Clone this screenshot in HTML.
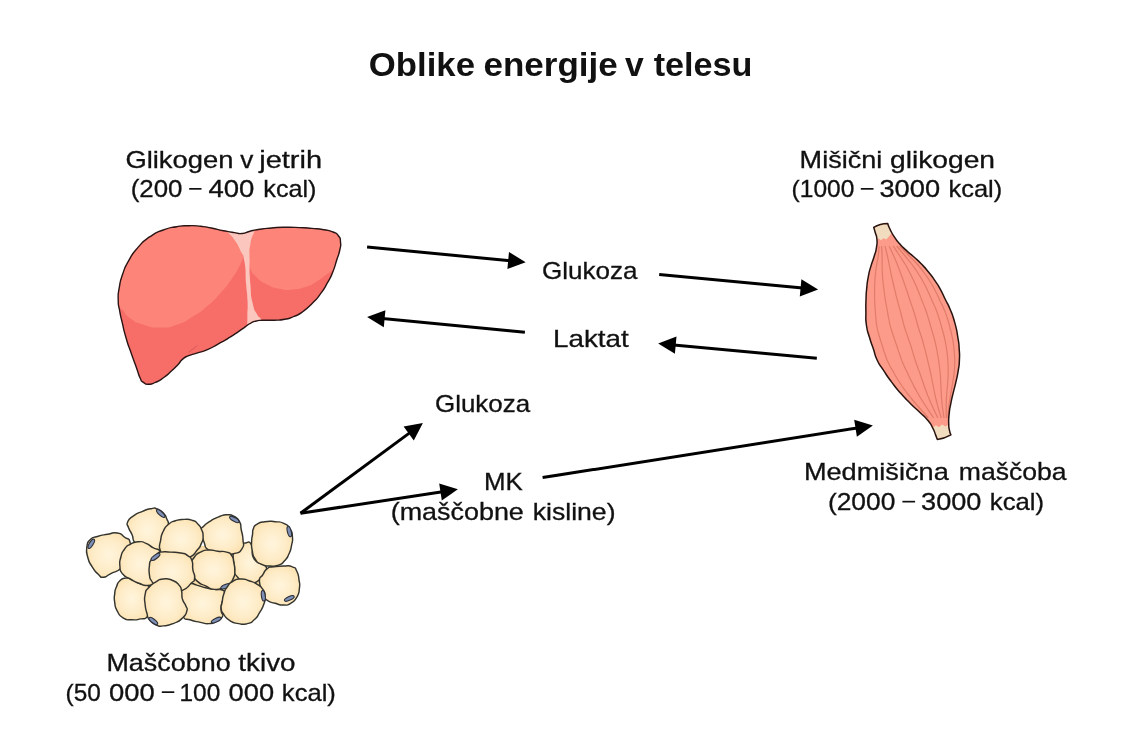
<!DOCTYPE html>
<html><head><meta charset="utf-8"><title>Oblike energije v telesu</title>
<style>html,body{margin:0;padding:0;background:#fff;}svg{display:block;will-change:transform;}
#texts{opacity:0.999;}
text{font-family:'Liberation Sans',sans-serif;fill:#111;}
text.t{font-weight:bold;}
text.n{stroke:#111;stroke-width:0.3px;}</style>
</head><body>
<svg width="1124" height="749" viewBox="0 0 1124 749">
<rect width="1124" height="749" fill="#fff"/>
<g id="texts">
<text class="t" transform="translate(368.86 76.40) scale(1.0361 1)" font-size="33.50">Oblike</text>
<text class="t" transform="translate(483.56 76.40) scale(1.0438 1)" font-size="33.50">energije</text>
<text class="t" transform="translate(625.10 76.40) scale(1.0053 1)" font-size="33.50">v</text>
<text class="t" transform="translate(653.70 76.40) scale(1.0193 1)" font-size="33.50">telesu</text>
<text class="n" transform="translate(125.39 167.80) scale(1.1594 1)" font-size="23.60">Glikogen</text>
<text class="n" transform="translate(240.35 167.80) scale(1.1083 1)" font-size="23.60">v</text>
<text class="n" transform="translate(259.18 167.80) scale(1.2310 1)" font-size="23.60">jetrih</text>
<text class="n" transform="translate(130.65 197.30) scale(1.0976 1)" font-size="23.60">(200</text>
<text class="n" transform="translate(208.45 197.30) scale(1.1671 1)" font-size="23.60">400</text>
<text class="n" transform="translate(263.28 197.30) scale(1.0676 1)" font-size="23.60">kcal)</text>
<text class="n" transform="translate(799.60 167.80) scale(1.1467 1)" font-size="23.60">Mišični</text>
<text class="n" transform="translate(889.95 167.80) scale(1.1963 1)" font-size="23.60">glikogen</text>
<text class="n" transform="translate(791.61 197.30) scale(1.0402 1)" font-size="23.60">(1000</text>
<text class="n" transform="translate(879.45 197.30) scale(1.1553 1)" font-size="23.60">3000</text>
<text class="n" transform="translate(948.47 197.30) scale(1.0780 1)" font-size="23.60">kcal)</text>
<text class="n" transform="translate(541.95 278.80) scale(1.1026 1)" font-size="23.60">Glukoza</text>
<text class="n" transform="translate(553.07 347.30) scale(1.1771 1)" font-size="23.60">Laktat</text>
<text class="n" transform="translate(435.05 412.40) scale(1.0980 1)" font-size="23.60">Glukoza</text>
<text class="n" transform="translate(484.05 490.40) scale(1.0966 1)" font-size="23.60">MK</text>
<text class="n" transform="translate(390.71 520.30) scale(1.1411 1)" font-size="23.60">(maščobne</text>
<text class="n" transform="translate(532.72 520.30) scale(1.1277 1)" font-size="23.60">kisline)</text>
<text class="n" transform="translate(803.90 480.40) scale(1.1507 1)" font-size="23.60">Medmišična</text>
<text class="n" transform="translate(958.82 480.40) scale(1.1264 1)" font-size="23.60">maščoba</text>
<text class="n" transform="translate(827.93 510.10) scale(1.1178 1)" font-size="23.60">(2000</text>
<text class="n" transform="translate(921.05 510.10) scale(1.1496 1)" font-size="23.60">3000</text>
<text class="n" transform="translate(989.76 510.10) scale(1.0906 1)" font-size="23.60">kcal)</text>
<text class="n" transform="translate(106.41 670.60) scale(1.1417 1)" font-size="23.60">Maščobno</text>
<text class="n" transform="translate(238.35 670.60) scale(1.1779 1)" font-size="23.60">tkivo</text>
<text class="n" transform="translate(65.52 700.60) scale(1.0340 1)" font-size="23.60">(50</text>
<text class="n" transform="translate(109.05 700.60) scale(1.1620 1)" font-size="23.60">000</text>
<text class="n" transform="translate(179.51 700.60) scale(1.0355 1)" font-size="23.60">100</text>
<text class="n" transform="translate(228.55 700.60) scale(1.1569 1)" font-size="23.60">000</text>
<text class="n" transform="translate(281.87 700.60) scale(1.0843 1)" font-size="23.60">kcal)</text>
<rect x="189.2" y="188.0" width="12.3" height="1.7" fill="#111"/>
<rect x="860.8" y="188.0" width="12.7" height="1.7" fill="#111"/>
<rect x="902.4" y="500.8" width="12.7" height="1.7" fill="#111"/>
<rect x="161.8" y="691.3" width="12.5" height="1.7" fill="#111"/>
</g>
<g id="arrows">
<line x1="367.1" y1="247.0" x2="510.2" y2="260.7" stroke="#000" stroke-width="3"/>
<polygon points="525.7,262.2 507.4,269.1 509.0,252.0" fill="#000"/>
<line x1="524.9" y1="332.2" x2="382.6" y2="318.6" stroke="#000" stroke-width="3"/>
<polygon points="367.1,317.1 385.4,310.2 383.8,327.3" fill="#000"/>
<line x1="659.2" y1="274.6" x2="802.6" y2="288.0" stroke="#000" stroke-width="3"/>
<polygon points="818.1,289.5 799.8,296.4 801.4,279.3" fill="#000"/>
<line x1="816.8" y1="358.2" x2="673.7" y2="344.9" stroke="#000" stroke-width="3"/>
<polygon points="658.2,343.5 676.5,336.6 674.9,353.7" fill="#000"/>
<line x1="300.5" y1="513.3" x2="410.3" y2="432.4" stroke="#000" stroke-width="3"/>
<polygon points="422.9,423.1 413.8,440.5 403.6,426.6" fill="#000"/>
<line x1="300.5" y1="513.3" x2="442.5" y2="491.7" stroke="#000" stroke-width="3"/>
<polygon points="457.9,489.3 441.8,500.5 439.2,483.5" fill="#000"/>
<line x1="542.6" y1="477.6" x2="857.5" y2="427.9" stroke="#000" stroke-width="3"/>
<polygon points="872.9,425.5 856.9,436.7 854.2,419.7" fill="#000"/>
</g>
<g id="liver">
<clipPath id="lc"><path d="M118.2 300.0 C118.1 292.5 117.8 296.0 119.3 287.4 C120.8 278.8 119.6 283.0 122.7 274.1 C125.8 265.2 123.6 269.6 128.7 260.7 C133.8 251.8 130.9 255.4 138.0 247.4 C145.1 239.4 141.5 242.5 150.0 236.7 C158.5 230.9 154.5 233.3 163.4 230.0 C172.3 226.7 168.2 228.1 176.7 226.7 C185.2 225.3 180.8 225.8 188.8 225.7 C196.8 225.6 193.3 225.5 200.8 226.3 C208.3 227.1 203.8 226.5 211.4 228.0 C219.0 229.5 215.8 229.2 223.5 230.7 C231.2 232.2 228.2 231.7 234.5 232.6 C240.8 233.5 237.1 234.0 242.3 233.5 C247.5 233.0 244.2 232.6 250.0 231.2 C255.8 229.8 252.5 230.4 259.7 229.3 C266.9 228.2 263.2 228.7 271.7 228.0 C280.2 227.3 275.8 227.4 285.1 227.3 C294.4 227.2 290.8 227.2 299.7 227.6 C308.6 228.0 303.8 227.7 311.8 228.4 C319.8 229.1 316.7 228.5 323.8 229.7 C330.9 230.9 328.2 229.9 333.1 232.0 C338.0 234.1 336.0 232.7 338.5 236.0 C341.0 239.3 340.1 237.3 340.5 242.0 C340.9 246.7 341.1 243.8 339.8 250.0 C338.5 256.2 338.8 253.4 336.5 260.7 C334.2 268.0 335.8 264.7 332.8 272.0 C329.8 279.3 331.5 275.6 327.5 282.7 C323.5 289.8 325.7 286.7 320.8 293.4 C315.9 300.1 318.6 296.8 312.8 302.7 C307.0 308.6 309.6 306.6 303.4 311.2 C297.2 315.8 300.3 313.7 294.1 316.4 C287.9 319.1 291.4 318.0 284.7 319.3 C278.0 320.6 281.2 319.9 274.1 320.2 C267.0 320.5 269.3 320.0 263.4 320.3 C257.5 320.6 260.5 320.1 256.4 321.0 C252.3 321.9 254.7 321.1 251.0 323.0 C247.3 324.9 250.0 323.5 245.2 326.8 C240.4 330.1 242.6 328.8 236.7 332.8 C230.8 336.8 233.6 335.0 227.4 338.8 C221.2 342.6 224.7 340.5 218.0 344.1 C211.3 347.7 214.5 346.7 207.4 349.7 C200.3 352.7 203.0 351.1 196.8 353.1 C190.6 355.1 193.5 353.7 188.8 355.7 C184.1 357.7 186.3 356.2 182.7 359.1 C179.1 362.0 181.9 360.4 178.1 364.4 C174.3 368.4 176.3 366.6 171.4 371.1 C166.5 375.6 168.7 374.0 163.4 377.8 C158.1 381.6 160.3 380.3 155.4 382.4 C150.5 384.5 152.7 384.2 148.7 384.2 C144.7 384.2 146.3 384.5 143.4 382.4 C140.5 380.3 142.2 382.5 140.0 377.8 C137.8 373.1 139.6 376.4 136.7 368.4 C133.8 360.4 135.0 363.9 131.4 353.7 C127.8 343.5 129.1 348.4 126.0 337.7 C122.9 327.0 124.2 330.9 122.0 321.7 C119.8 312.5 120.8 317.2 119.5 310.0 C118.2 302.8 118.3 307.5 118.2 300.0Z"/></clipPath>
<path d="M118.2 300.0 C118.1 292.5 117.8 296.0 119.3 287.4 C120.8 278.8 119.6 283.0 122.7 274.1 C125.8 265.2 123.6 269.6 128.7 260.7 C133.8 251.8 130.9 255.4 138.0 247.4 C145.1 239.4 141.5 242.5 150.0 236.7 C158.5 230.9 154.5 233.3 163.4 230.0 C172.3 226.7 168.2 228.1 176.7 226.7 C185.2 225.3 180.8 225.8 188.8 225.7 C196.8 225.6 193.3 225.5 200.8 226.3 C208.3 227.1 203.8 226.5 211.4 228.0 C219.0 229.5 215.8 229.2 223.5 230.7 C231.2 232.2 228.2 231.7 234.5 232.6 C240.8 233.5 237.1 234.0 242.3 233.5 C247.5 233.0 244.2 232.6 250.0 231.2 C255.8 229.8 252.5 230.4 259.7 229.3 C266.9 228.2 263.2 228.7 271.7 228.0 C280.2 227.3 275.8 227.4 285.1 227.3 C294.4 227.2 290.8 227.2 299.7 227.6 C308.6 228.0 303.8 227.7 311.8 228.4 C319.8 229.1 316.7 228.5 323.8 229.7 C330.9 230.9 328.2 229.9 333.1 232.0 C338.0 234.1 336.0 232.7 338.5 236.0 C341.0 239.3 340.1 237.3 340.5 242.0 C340.9 246.7 341.1 243.8 339.8 250.0 C338.5 256.2 338.8 253.4 336.5 260.7 C334.2 268.0 335.8 264.7 332.8 272.0 C329.8 279.3 331.5 275.6 327.5 282.7 C323.5 289.8 325.7 286.7 320.8 293.4 C315.9 300.1 318.6 296.8 312.8 302.7 C307.0 308.6 309.6 306.6 303.4 311.2 C297.2 315.8 300.3 313.7 294.1 316.4 C287.9 319.1 291.4 318.0 284.7 319.3 C278.0 320.6 281.2 319.9 274.1 320.2 C267.0 320.5 269.3 320.0 263.4 320.3 C257.5 320.6 260.5 320.1 256.4 321.0 C252.3 321.9 254.7 321.1 251.0 323.0 C247.3 324.9 250.0 323.5 245.2 326.8 C240.4 330.1 242.6 328.8 236.7 332.8 C230.8 336.8 233.6 335.0 227.4 338.8 C221.2 342.6 224.7 340.5 218.0 344.1 C211.3 347.7 214.5 346.7 207.4 349.7 C200.3 352.7 203.0 351.1 196.8 353.1 C190.6 355.1 193.5 353.7 188.8 355.7 C184.1 357.7 186.3 356.2 182.7 359.1 C179.1 362.0 181.9 360.4 178.1 364.4 C174.3 368.4 176.3 366.6 171.4 371.1 C166.5 375.6 168.7 374.0 163.4 377.8 C158.1 381.6 160.3 380.3 155.4 382.4 C150.5 384.5 152.7 384.2 148.7 384.2 C144.7 384.2 146.3 384.5 143.4 382.4 C140.5 380.3 142.2 382.5 140.0 377.8 C137.8 373.1 139.6 376.4 136.7 368.4 C133.8 360.4 135.0 363.9 131.4 353.7 C127.8 343.5 129.1 348.4 126.0 337.7 C122.9 327.0 124.2 330.9 122.0 321.7 C119.8 312.5 120.8 317.2 119.5 310.0 C118.2 302.8 118.3 307.5 118.2 300.0Z" fill="#f76d68"/>
<g clip-path="url(#lc)">
<path d="M112.0 302.0 C115.1 304.2 115.3 303.3 121.3 308.7 C127.3 314.1 122.6 312.8 130.0 318.1 C137.4 323.4 133.2 321.6 143.4 324.7 C153.6 327.8 149.6 327.4 160.7 327.4 C171.8 327.4 166.0 328.3 176.7 324.7 C187.4 321.1 182.5 322.9 192.7 316.7 C202.9 310.5 198.0 314.1 207.4 306.1 C216.8 298.1 212.8 301.6 220.8 292.7 C228.8 283.8 225.2 288.3 231.4 279.4 C237.6 270.5 235.4 273.8 239.5 266.0 C243.6 258.2 241.4 262.7 243.6 256.0 C245.8 249.3 245.2 249.3 246.0 246.0 L246 215 L105 215 Z" fill="#fc8479"/>
<path d="M247.0 255.0 C247.7 257.7 247.7 258.0 249.0 263.0 C250.3 268.0 248.9 265.7 251.0 270.0 C253.1 274.3 250.4 271.3 255.4 276.0 C260.4 280.7 258.0 279.8 266.0 284.0 C274.0 288.2 270.5 286.9 279.4 288.7 C288.3 290.5 283.9 290.1 292.8 289.4 C301.7 288.7 298.1 289.4 306.1 286.7 C314.1 284.0 310.7 285.0 316.8 281.4 C322.9 277.8 319.1 279.8 324.5 276.0 C329.9 272.2 326.2 274.7 333.0 270.0 C339.8 265.3 341.0 264.7 345.0 262.0 L350 215 L247 215 Z" fill="#fc8479"/>
<path d="M225.5 228.0 C226.2 229.3 224.8 228.3 227.6 232.0 C230.4 235.7 229.7 233.1 234.0 239.2 C238.3 245.3 236.9 242.9 240.4 250.4 C243.9 257.9 242.6 250.5 244.5 261.7 C246.4 272.9 245.1 271.3 246.1 284.1 C247.1 296.9 247.1 289.5 247.5 300.1 C247.9 310.7 247.6 305.4 247.4 316.0 C247.2 326.6 247.1 326.7 247.0 332.0 L264.0 332.0 C263.1 328.1 263.6 326.0 261.3 320.2 C259.0 314.4 260.1 320.1 257.2 314.5 C254.3 308.9 255.0 313.4 252.7 303.3 C250.4 293.2 251.4 298.5 250.4 284.1 C249.4 269.7 249.6 273.5 249.6 260.1 C249.6 246.7 248.9 253.4 250.4 244.0 C251.9 234.6 252.2 238.0 254.1 232.0 C256.0 226.0 255.4 228.0 256.0 226.0Z" fill="#fbc6be"/>
</g>
<path d="M118.2 300.0 C118.1 292.5 117.8 296.0 119.3 287.4 C120.8 278.8 119.6 283.0 122.7 274.1 C125.8 265.2 123.6 269.6 128.7 260.7 C133.8 251.8 130.9 255.4 138.0 247.4 C145.1 239.4 141.5 242.5 150.0 236.7 C158.5 230.9 154.5 233.3 163.4 230.0 C172.3 226.7 168.2 228.1 176.7 226.7 C185.2 225.3 180.8 225.8 188.8 225.7 C196.8 225.6 193.3 225.5 200.8 226.3 C208.3 227.1 203.8 226.5 211.4 228.0 C219.0 229.5 215.8 229.2 223.5 230.7 C231.2 232.2 228.2 231.7 234.5 232.6 C240.8 233.5 237.1 234.0 242.3 233.5 C247.5 233.0 244.2 232.6 250.0 231.2 C255.8 229.8 252.5 230.4 259.7 229.3 C266.9 228.2 263.2 228.7 271.7 228.0 C280.2 227.3 275.8 227.4 285.1 227.3 C294.4 227.2 290.8 227.2 299.7 227.6 C308.6 228.0 303.8 227.7 311.8 228.4 C319.8 229.1 316.7 228.5 323.8 229.7 C330.9 230.9 328.2 229.9 333.1 232.0 C338.0 234.1 336.0 232.7 338.5 236.0 C341.0 239.3 340.1 237.3 340.5 242.0 C340.9 246.7 341.1 243.8 339.8 250.0 C338.5 256.2 338.8 253.4 336.5 260.7 C334.2 268.0 335.8 264.7 332.8 272.0 C329.8 279.3 331.5 275.6 327.5 282.7 C323.5 289.8 325.7 286.7 320.8 293.4 C315.9 300.1 318.6 296.8 312.8 302.7 C307.0 308.6 309.6 306.6 303.4 311.2 C297.2 315.8 300.3 313.7 294.1 316.4 C287.9 319.1 291.4 318.0 284.7 319.3 C278.0 320.6 281.2 319.9 274.1 320.2 C267.0 320.5 269.3 320.0 263.4 320.3 C257.5 320.6 260.5 320.1 256.4 321.0 C252.3 321.9 254.7 321.1 251.0 323.0 C247.3 324.9 250.0 323.5 245.2 326.8 C240.4 330.1 242.6 328.8 236.7 332.8 C230.8 336.8 233.6 335.0 227.4 338.8 C221.2 342.6 224.7 340.5 218.0 344.1 C211.3 347.7 214.5 346.7 207.4 349.7 C200.3 352.7 203.0 351.1 196.8 353.1 C190.6 355.1 193.5 353.7 188.8 355.7 C184.1 357.7 186.3 356.2 182.7 359.1 C179.1 362.0 181.9 360.4 178.1 364.4 C174.3 368.4 176.3 366.6 171.4 371.1 C166.5 375.6 168.7 374.0 163.4 377.8 C158.1 381.6 160.3 380.3 155.4 382.4 C150.5 384.5 152.7 384.2 148.7 384.2 C144.7 384.2 146.3 384.5 143.4 382.4 C140.5 380.3 142.2 382.5 140.0 377.8 C137.8 373.1 139.6 376.4 136.7 368.4 C133.8 360.4 135.0 363.9 131.4 353.7 C127.8 343.5 129.1 348.4 126.0 337.7 C122.9 327.0 124.2 330.9 122.0 321.7 C119.8 312.5 120.8 317.2 119.5 310.0 C118.2 302.8 118.3 307.5 118.2 300.0Z" fill="none" stroke="#2a1414" stroke-width="1.4"/>
<path d="M188.6 352.4 L197.4 345.6" stroke="#d95a58" stroke-width="1" fill="none"/>
</g>
<g id="muscle">
<clipPath id="mc"><path d="M873.7 227.3 C874.2 229.1 874.2 228.8 875.3 232.8 C876.4 236.8 876.5 234.2 876.9 239.2 C877.3 244.2 877.3 242.1 876.4 247.8 C875.5 253.5 876.0 250.3 874.2 256.3 C872.4 262.3 873.0 259.1 871.0 265.9 C869.0 272.7 869.7 269.1 868.3 276.6 C866.9 284.1 867.5 280.5 866.7 288.3 C865.9 296.1 866.3 292.1 866.0 300.0 C865.7 307.9 865.8 303.7 865.9 312.0 C866.0 320.3 865.2 316.4 866.4 325.0 C867.6 333.6 867.3 329.8 869.6 337.8 C871.9 345.8 870.9 341.6 873.4 349.0 C875.9 356.4 873.8 352.9 877.1 360.0 C880.4 367.1 878.7 363.0 883.4 370.2 C888.1 377.4 885.6 374.0 891.3 381.6 C897.0 389.2 894.0 385.5 900.4 392.9 C906.8 400.3 904.2 397.3 910.6 403.7 C917.0 410.1 914.0 406.7 919.7 412.2 C925.4 417.7 923.3 414.9 927.7 420.2 C932.1 425.5 930.2 423.2 932.8 428.1 C935.4 433.0 934.1 431.1 935.6 434.9 C937.1 438.7 936.7 438.0 937.3 439.5 Q944.5 438.6 950.9 434.9 L950.9 434.9 C950.4 433.4 950.2 434.2 949.5 430.4 C948.8 426.6 948.8 429.3 948.7 423.6 C948.6 417.9 948.5 420.2 949.2 413.4 C949.9 406.6 949.6 409.9 950.9 403.1 C952.2 396.3 951.5 400.1 953.2 392.9 C954.9 385.7 954.3 389.2 956.0 381.6 C957.7 374.0 957.2 377.4 958.3 370.2 C959.4 363.0 959.1 367.1 959.4 360.0 C959.7 352.9 959.7 356.7 959.2 349.0 C958.7 341.3 959.3 346.0 957.8 337.0 C956.3 328.0 957.2 331.3 954.6 322.0 C952.0 312.7 953.0 316.3 950.0 309.0 C947.0 301.7 948.8 306.5 945.6 300.0 C942.4 293.5 943.9 295.8 940.4 289.4 C936.9 283.0 939.0 286.6 935.1 280.9 C931.2 275.2 933.3 278.0 928.7 272.3 C924.1 266.6 926.2 269.0 921.2 263.8 C916.2 258.6 918.7 261.3 913.7 256.8 C908.7 252.3 910.9 254.7 906.3 250.4 C901.7 246.1 903.8 248.4 899.9 244.0 C896.0 239.6 897.7 241.9 894.5 237.1 C891.3 232.3 892.5 234.2 890.2 229.6 C887.9 225.0 888.5 225.5 887.6 223.4 Q880 223.6 873.7 227.3Z"/></clipPath>
<path d="M873.7 227.3 C874.2 229.1 874.2 228.8 875.3 232.8 C876.4 236.8 876.5 234.2 876.9 239.2 C877.3 244.2 877.3 242.1 876.4 247.8 C875.5 253.5 876.0 250.3 874.2 256.3 C872.4 262.3 873.0 259.1 871.0 265.9 C869.0 272.7 869.7 269.1 868.3 276.6 C866.9 284.1 867.5 280.5 866.7 288.3 C865.9 296.1 866.3 292.1 866.0 300.0 C865.7 307.9 865.8 303.7 865.9 312.0 C866.0 320.3 865.2 316.4 866.4 325.0 C867.6 333.6 867.3 329.8 869.6 337.8 C871.9 345.8 870.9 341.6 873.4 349.0 C875.9 356.4 873.8 352.9 877.1 360.0 C880.4 367.1 878.7 363.0 883.4 370.2 C888.1 377.4 885.6 374.0 891.3 381.6 C897.0 389.2 894.0 385.5 900.4 392.9 C906.8 400.3 904.2 397.3 910.6 403.7 C917.0 410.1 914.0 406.7 919.7 412.2 C925.4 417.7 923.3 414.9 927.7 420.2 C932.1 425.5 930.2 423.2 932.8 428.1 C935.4 433.0 934.1 431.1 935.6 434.9 C937.1 438.7 936.7 438.0 937.3 439.5 Q944.5 438.6 950.9 434.9 L950.9 434.9 C950.4 433.4 950.2 434.2 949.5 430.4 C948.8 426.6 948.8 429.3 948.7 423.6 C948.6 417.9 948.5 420.2 949.2 413.4 C949.9 406.6 949.6 409.9 950.9 403.1 C952.2 396.3 951.5 400.1 953.2 392.9 C954.9 385.7 954.3 389.2 956.0 381.6 C957.7 374.0 957.2 377.4 958.3 370.2 C959.4 363.0 959.1 367.1 959.4 360.0 C959.7 352.9 959.7 356.7 959.2 349.0 C958.7 341.3 959.3 346.0 957.8 337.0 C956.3 328.0 957.2 331.3 954.6 322.0 C952.0 312.7 953.0 316.3 950.0 309.0 C947.0 301.7 948.8 306.5 945.6 300.0 C942.4 293.5 943.9 295.8 940.4 289.4 C936.9 283.0 939.0 286.6 935.1 280.9 C931.2 275.2 933.3 278.0 928.7 272.3 C924.1 266.6 926.2 269.0 921.2 263.8 C916.2 258.6 918.7 261.3 913.7 256.8 C908.7 252.3 910.9 254.7 906.3 250.4 C901.7 246.1 903.8 248.4 899.9 244.0 C896.0 239.6 897.7 241.9 894.5 237.1 C891.3 232.3 892.5 234.2 890.2 229.6 C887.9 225.0 888.5 225.5 887.6 223.4 Q880 223.6 873.7 227.3Z" fill="#fc9b89"/>
<g clip-path="url(#mc)">
<g fill="none" stroke="#e07c69" stroke-width="1.2" stroke-linecap="round"><path d="M879.1 246.5 C878.8 249.5 879.1 249.5 878.3 255.5 C877.5 261.5 877.7 258.5 876.7 264.5 C875.8 270.5 876.1 267.5 875.5 273.5 C874.8 279.5 875.1 276.5 874.8 282.5 C874.5 288.5 874.6 285.5 874.6 291.5 C874.6 297.5 874.5 294.5 874.7 300.5 C874.9 306.5 874.8 303.5 875.2 309.5 C875.6 315.5 875.3 312.5 875.9 318.5 C876.5 324.5 875.9 321.5 877.1 327.5 C878.2 333.5 877.7 330.5 879.4 336.5 C881.1 342.5 880.3 339.5 882.2 345.5 C884.1 351.5 882.9 348.5 885.1 354.5 C887.2 360.5 885.8 357.5 888.7 363.5 C891.6 369.5 890.2 366.5 893.7 372.5 C897.1 378.5 895.2 375.5 899.0 381.5 C902.9 387.5 900.8 384.5 905.2 390.5 C909.6 396.5 907.3 393.5 912.2 399.5 C917.1 405.5 914.7 402.5 920.0 408.5 C925.3 414.5 925.3 414.5 928.0 417.5"/><path d="M881.6 246.5 C881.8 249.5 881.9 249.5 882.1 255.5 C882.3 261.5 882.1 258.5 882.1 264.5 C882.2 270.5 882.1 267.5 882.4 273.5 C882.7 279.5 882.5 276.5 883.1 282.5 C883.7 288.5 883.4 285.5 884.2 291.5 C884.9 297.5 884.5 294.5 885.4 300.5 C886.4 306.5 886.0 303.5 887.1 309.5 C888.2 315.5 887.5 312.5 888.7 318.5 C890.0 324.5 889.1 321.5 890.7 327.5 C892.3 333.5 891.6 330.5 893.6 336.5 C895.6 342.5 894.6 339.5 896.7 345.5 C898.7 351.5 897.5 348.5 899.7 354.5 C901.8 360.5 900.5 357.5 903.0 363.5 C905.6 369.5 904.4 366.5 907.3 372.5 C910.1 378.5 908.6 375.5 911.6 381.5 C914.6 387.5 913.0 384.5 916.3 390.5 C919.6 396.5 917.8 393.5 921.5 399.5 C925.2 405.5 923.4 402.5 927.3 408.5 C931.2 414.5 931.3 414.5 933.3 417.5"/><path d="M885.1 246.5 C885.8 249.5 885.9 249.5 887.3 255.5 C888.7 261.5 888.0 258.5 889.2 264.5 C890.4 270.5 889.7 267.5 891.0 273.5 C892.3 279.5 891.6 276.5 893.0 282.5 C894.4 288.5 893.7 285.5 895.2 291.5 C896.6 297.5 895.8 294.5 897.4 300.5 C898.9 306.5 898.3 303.5 899.9 309.5 C901.5 315.5 900.6 312.5 902.2 318.5 C903.8 324.5 902.8 321.5 904.6 327.5 C906.4 333.5 905.6 330.5 907.6 336.5 C909.6 342.5 908.7 339.5 910.7 345.5 C912.6 351.5 911.6 348.5 913.4 354.5 C915.3 360.5 914.3 357.5 916.3 363.5 C918.4 369.5 917.5 366.5 919.6 372.5 C921.7 378.5 920.6 375.5 922.7 381.5 C924.8 387.5 923.6 384.5 925.9 390.5 C928.1 396.5 926.9 393.5 929.4 399.5 C931.9 405.5 930.7 402.5 933.4 408.5 C936.2 414.5 936.2 414.5 937.6 417.5"/><path d="M889.3 246.5 C890.7 249.5 890.8 249.5 893.5 255.5 C896.2 261.5 894.9 258.5 897.3 264.5 C899.8 270.5 898.5 267.5 900.7 273.5 C903.0 279.5 901.9 276.5 904.0 282.5 C906.1 288.5 905.1 285.5 907.1 291.5 C909.1 297.5 908.0 294.5 910.0 300.5 C912.0 306.5 911.2 303.5 913.1 309.5 C915.1 315.5 914.1 312.5 915.8 318.5 C917.6 324.5 916.6 321.5 918.4 327.5 C920.2 333.5 919.4 330.5 921.3 336.5 C923.1 342.5 922.3 339.5 923.9 345.5 C925.6 351.5 924.8 348.5 926.2 354.5 C927.7 360.5 927.0 357.5 928.4 363.5 C929.8 369.5 929.2 366.5 930.5 372.5 C931.9 378.5 931.2 375.5 932.3 381.5 C933.5 387.5 932.9 384.5 934.1 390.5 C935.3 396.5 934.6 393.5 936.1 399.5 C937.5 405.5 936.8 402.5 938.4 408.5 C940.1 414.5 940.2 414.5 941.1 417.5"/><path d="M893.5 246.5 C895.5 249.5 895.6 249.5 899.5 255.5 C903.4 261.5 901.7 258.5 905.3 264.5 C908.8 270.5 907.1 267.5 910.2 273.5 C913.2 279.5 911.8 276.5 914.5 282.5 C917.3 288.5 916.0 285.5 918.4 291.5 C920.9 297.5 919.5 294.5 921.9 300.5 C924.2 306.5 923.3 303.5 925.5 309.5 C927.7 315.5 926.6 312.5 928.4 318.5 C930.3 324.5 929.3 321.5 931.0 327.5 C932.8 333.5 932.0 330.5 933.7 336.5 C935.3 342.5 934.5 339.5 935.9 345.5 C937.2 351.5 936.6 348.5 937.6 354.5 C938.7 360.5 938.2 357.5 939.0 363.5 C939.9 369.5 939.5 366.5 940.1 372.5 C940.7 378.5 940.4 375.5 940.7 381.5 C941.0 387.5 940.8 384.5 941.1 390.5 C941.4 396.5 941.2 393.5 941.7 399.5 C942.2 405.5 941.9 402.5 942.6 408.5 C943.4 414.5 943.5 414.5 944.0 417.5"/><path d="M897.1 246.5 C899.6 249.5 899.7 249.5 904.7 255.5 C909.6 261.5 907.5 258.5 912.0 264.5 C916.5 270.5 914.3 267.5 918.2 273.5 C922.0 279.5 920.2 276.5 923.5 282.5 C926.8 288.5 925.2 285.5 928.0 291.5 C930.9 297.5 929.3 294.5 932.0 300.5 C934.6 306.5 933.6 303.5 936.0 309.5 C938.4 315.5 937.2 312.5 939.1 318.5 C941.0 324.5 940.1 321.5 941.7 327.5 C943.4 333.5 942.7 330.5 944.2 336.5 C945.6 342.5 944.9 339.5 946.0 345.5 C947.0 351.5 946.6 348.5 947.3 354.5 C948.0 360.5 947.7 357.5 948.0 363.5 C948.3 369.5 948.3 366.5 948.2 372.5 C948.1 378.5 948.1 375.5 947.8 381.5 C947.4 387.5 947.5 384.5 947.0 390.5 C946.6 396.5 946.7 393.5 946.4 399.5 C946.1 405.5 946.2 402.5 946.2 408.5 C946.2 414.5 946.3 414.5 946.4 417.5"/><path d="M900.0 246.5 C903.0 249.5 903.0 249.5 908.8 255.5 C914.6 261.5 912.2 258.5 917.5 264.5 C922.7 270.5 920.2 267.5 924.5 273.5 C928.9 279.5 926.9 276.5 930.6 282.5 C934.3 288.5 932.5 285.5 935.6 291.5 C938.7 297.5 937.0 294.5 939.9 300.5 C942.7 306.5 941.6 303.5 944.1 309.5 C946.6 315.5 945.4 312.5 947.4 318.5 C949.3 324.5 948.3 321.5 949.9 327.5 C951.5 333.5 950.9 330.5 952.1 336.5 C953.3 342.5 952.8 339.5 953.6 345.5 C954.4 351.5 954.1 348.5 954.5 354.5 C954.9 360.5 954.8 357.5 954.7 363.5 C954.6 369.5 954.7 366.5 954.1 372.5 C953.5 378.5 953.8 375.5 952.9 381.5 C951.9 387.5 952.3 384.5 951.3 390.5 C950.2 396.5 950.7 393.5 949.8 399.5 C948.9 405.5 949.2 402.5 948.6 408.5 C948.1 414.5 948.3 414.5 948.1 417.5"/></g>
<path d="M870.0 220.0 L892.0 220.0 L892.0 233.0 L890.5 234.5 L888.5 237.0 L886.3 239.6 L883.5 238.2 L881.0 240.2 L878.5 238.6 L876.0 239.5 L870.0 239.0Z" fill="#f2dcbf"/>
<path d="M930.0 428.4 L933.0 427.6 L936.0 425.2 L939.0 427.2 L942.0 424.4 L945.5 426.6 L948.0 425.0 L953.0 425.0 L955.0 442.0 L930.0 442.0Z" fill="#f2dcbf"/>
</g>
<path d="M873.7 227.3 C874.2 229.1 874.2 228.8 875.3 232.8 C876.4 236.8 876.5 234.2 876.9 239.2 C877.3 244.2 877.3 242.1 876.4 247.8 C875.5 253.5 876.0 250.3 874.2 256.3 C872.4 262.3 873.0 259.1 871.0 265.9 C869.0 272.7 869.7 269.1 868.3 276.6 C866.9 284.1 867.5 280.5 866.7 288.3 C865.9 296.1 866.3 292.1 866.0 300.0 C865.7 307.9 865.8 303.7 865.9 312.0 C866.0 320.3 865.2 316.4 866.4 325.0 C867.6 333.6 867.3 329.8 869.6 337.8 C871.9 345.8 870.9 341.6 873.4 349.0 C875.9 356.4 873.8 352.9 877.1 360.0 C880.4 367.1 878.7 363.0 883.4 370.2 C888.1 377.4 885.6 374.0 891.3 381.6 C897.0 389.2 894.0 385.5 900.4 392.9 C906.8 400.3 904.2 397.3 910.6 403.7 C917.0 410.1 914.0 406.7 919.7 412.2 C925.4 417.7 923.3 414.9 927.7 420.2 C932.1 425.5 930.2 423.2 932.8 428.1 C935.4 433.0 934.1 431.1 935.6 434.9 C937.1 438.7 936.7 438.0 937.3 439.5 Q944.5 438.6 950.9 434.9 L950.9 434.9 C950.4 433.4 950.2 434.2 949.5 430.4 C948.8 426.6 948.8 429.3 948.7 423.6 C948.6 417.9 948.5 420.2 949.2 413.4 C949.9 406.6 949.6 409.9 950.9 403.1 C952.2 396.3 951.5 400.1 953.2 392.9 C954.9 385.7 954.3 389.2 956.0 381.6 C957.7 374.0 957.2 377.4 958.3 370.2 C959.4 363.0 959.1 367.1 959.4 360.0 C959.7 352.9 959.7 356.7 959.2 349.0 C958.7 341.3 959.3 346.0 957.8 337.0 C956.3 328.0 957.2 331.3 954.6 322.0 C952.0 312.7 953.0 316.3 950.0 309.0 C947.0 301.7 948.8 306.5 945.6 300.0 C942.4 293.5 943.9 295.8 940.4 289.4 C936.9 283.0 939.0 286.6 935.1 280.9 C931.2 275.2 933.3 278.0 928.7 272.3 C924.1 266.6 926.2 269.0 921.2 263.8 C916.2 258.6 918.7 261.3 913.7 256.8 C908.7 252.3 910.9 254.7 906.3 250.4 C901.7 246.1 903.8 248.4 899.9 244.0 C896.0 239.6 897.7 241.9 894.5 237.1 C891.3 232.3 892.5 234.2 890.2 229.6 C887.9 225.0 888.5 225.5 887.6 223.4 Q880 223.6 873.7 227.3Z" fill="none" stroke="#2a1410" stroke-width="1.5" stroke-linejoin="round"/>
</g>
<g id="fat"><radialGradient id="fg" cx="0.5" cy="0.5" r="0.62"><stop offset="0" stop-color="#fff5dd"/><stop offset="0.55" stop-color="#feecc8"/><stop offset="1" stop-color="#fbdfaa"/></radialGradient><path d="M128 552 L150 542 L190 546 L235 546 L260 560 L260 590 L240 604 L180 604 L142 598 L128 580Z" fill="#f9dba6"/>
<path d="M233.4 550.3 C234.3 543.1 233.4 546.7 236.9 544.3 C240.3 541.8 238.9 542.9 243.8 543.1 C248.7 543.2 248.2 539.5 251.6 544.8 C255.1 550.1 249.3 551.4 254.2 559.0 C259.2 566.7 264.7 560.8 266.4 567.7 C268.1 574.7 265.8 575.2 259.4 579.9 C253.1 584.5 254.8 582.8 247.3 581.6 C239.8 580.4 241.2 581.6 236.9 576.4 C232.5 571.2 235.4 574.7 234.3 566.0 C233.1 557.3 232.5 557.6 233.4 550.3Z" fill="url(#fg)" stroke="#35352f" stroke-width="1.45" stroke-linejoin="round"/>
<path d="M86.9 546.9 C87.8 541.0 86.9 543.1 90.4 539.6 C93.9 536.1 91.6 538.3 97.4 536.5 C103.1 534.7 101.1 535.4 107.8 534.2 C114.4 533.0 111.8 532.1 117.3 533.0 C122.8 533.9 119.9 533.5 124.3 537.0 C128.6 540.5 128.9 536.6 130.3 543.4 C131.8 550.2 131.5 549.2 128.6 557.3 C125.7 565.4 127.7 562.2 121.7 567.7 C115.6 573.2 116.5 570.6 110.4 573.8 C104.3 577.0 107.5 577.1 103.4 577.3 C99.4 577.4 102.0 577.8 98.2 574.3 C94.5 570.8 95.6 572.5 92.2 566.8 C88.7 561.2 89.5 563.9 87.8 557.3 C86.1 550.6 86.1 552.8 86.9 546.9Z" fill="url(#fg)" stroke="#35352f" stroke-width="1.45" stroke-linejoin="round"/>
<ellipse cx="91.3" cy="543.8" rx="5.3" ry="1.9" transform="rotate(-58 91.3 543.8)" fill="#7f90b6" stroke="#2b2e38" stroke-width="1.1"/>
<path d="M127.7 521.7 C129.5 517.7 128.9 519.1 133.8 515.6 C138.7 512.2 136.7 513.6 142.5 511.3 C148.3 509.0 146.3 509.4 151.2 508.7 C156.1 507.9 153.2 507.6 157.3 509.0 C161.3 510.5 160.2 509.7 163.3 513.0 C166.5 516.4 165.2 514.8 166.8 519.1 C168.4 523.4 168.8 519.7 168.2 526.0 C167.6 532.4 167.2 530.2 165.1 538.2 C163.0 546.2 168.3 545.9 161.9 550.0 C155.6 554.1 154.8 552.5 146.0 550.3 C137.2 548.1 140.2 548.6 135.6 543.4 C130.9 538.2 134.4 539.9 132.1 534.7 C129.8 529.5 130.1 532.1 128.6 527.8 C127.2 523.4 126.0 525.8 127.7 521.7Z" fill="url(#fg)" stroke="#35352f" stroke-width="1.45" stroke-linejoin="round"/>
<ellipse cx="160.7" cy="513.5" rx="5.3" ry="1.9" transform="rotate(42 160.7 513.5)" fill="#7f90b6" stroke="#2b2e38" stroke-width="1.1"/>
<path d="M116.5 586.8 C118.2 582.5 116.7 583.6 119.9 580.7 C123.1 577.8 122.0 578.5 126.0 578.1 C130.1 577.7 127.7 577.8 132.1 579.5 C136.4 581.2 133.8 581.4 139.0 583.3 C144.2 585.3 144.2 580.8 147.7 585.4 C151.2 590.0 149.2 588.7 149.4 597.2 C149.7 605.8 149.4 604.5 148.6 611.1 C147.7 617.8 149.4 614.6 146.8 617.2 C144.2 619.8 145.7 618.1 140.8 618.9 C135.8 619.8 137.9 620.1 132.1 619.8 C126.3 619.5 128.3 620.9 123.4 618.1 C118.5 615.2 120.2 616.3 117.3 611.1 C114.4 605.9 115.6 608.2 114.7 602.4 C113.9 596.6 114.1 599.0 114.7 593.8 C115.3 588.5 114.7 591.1 116.5 586.8Z" fill="url(#fg)" stroke="#35352f" stroke-width="1.45" stroke-linejoin="round"/>
<path d="M201.3 531.2 C201.3 526.0 200.7 529.5 203.9 526.0 C207.1 522.6 205.6 524.0 210.8 520.8 C216.0 517.7 214.0 518.5 219.5 516.5 C225.0 514.5 222.4 514.8 227.3 514.8 C232.2 514.8 230.2 514.2 234.3 516.5 C238.3 518.8 237.2 517.4 239.5 521.7 C241.8 526.0 240.1 523.4 241.2 529.5 C242.4 535.6 242.7 533.6 243.0 539.9 C243.2 546.3 245.3 544.0 242.1 548.6 C238.9 553.2 240.3 552.1 233.4 553.8 C226.5 555.6 229.4 555.0 221.2 553.8 C213.1 552.7 214.9 554.4 209.1 550.3 C203.3 546.3 206.5 548.0 203.9 541.7 C201.3 535.3 201.3 536.5 201.3 531.2Z" fill="url(#fg)" stroke="#35352f" stroke-width="1.45" stroke-linejoin="round"/>
<ellipse cx="234.3" cy="519.4" rx="5.3" ry="1.9" transform="rotate(30 234.3 519.4)" fill="#7f90b6" stroke="#2b2e38" stroke-width="1.1"/>
<path d="M160.7 539.9 C161.8 533.6 160.7 536.5 163.3 531.2 C165.9 526.0 164.5 527.8 168.5 524.3 C172.6 520.8 170.3 522.5 175.5 520.8 C180.7 519.2 178.4 519.6 184.2 519.4 C190.0 519.3 188.2 518.9 192.8 520.5 C197.5 522.1 195.2 521.3 198.1 524.3 C200.9 527.3 199.8 525.5 201.5 529.5 C203.2 533.6 203.1 531.8 203.1 536.5 C203.0 541.1 203.4 538.8 201.4 543.4 C199.3 548.0 201.0 545.7 197.0 550.3 C193.0 555.0 196.0 554.4 189.4 557.3 C182.8 560.2 184.7 559.6 177.2 559.0 C169.7 558.4 172.5 558.4 166.8 555.6 C161.1 552.7 162.2 555.6 160.2 550.3 C158.2 545.1 159.7 546.3 160.7 539.9Z" fill="url(#fg)" stroke="#35352f" stroke-width="1.45" stroke-linejoin="round"/>
<path d="M119.9 566.0 C119.4 560.5 119.4 562.8 120.8 557.3 C122.2 551.8 121.1 553.8 124.3 549.5 C127.5 545.1 125.4 546.9 130.3 544.3 C135.3 541.7 133.8 542.0 139.0 541.7 C144.2 541.4 141.3 541.4 146.0 543.4 C150.6 545.4 148.2 544.8 152.9 547.7 C157.7 550.6 159.6 547.7 160.2 552.1 C160.8 556.4 157.1 553.8 154.7 560.8 C152.2 567.7 152.9 566.0 152.9 572.9 C152.9 579.9 156.4 577.4 154.7 581.6 C152.9 585.8 152.9 584.8 147.7 585.4 C142.5 586.0 144.8 585.5 139.0 583.3 C133.2 581.2 135.8 582.2 130.3 579.0 C124.8 575.8 126.0 578.1 122.5 573.8 C119.1 569.4 120.5 571.5 119.9 566.0Z" fill="url(#fg)" stroke="#35352f" stroke-width="1.45" stroke-linejoin="round"/>
<path d="M181.3 590.3 C182.5 583.9 181.9 587.4 184.8 585.1 C187.7 582.8 185.9 583.3 190.0 583.3 C194.1 583.3 191.7 583.6 196.9 585.1 C202.2 586.5 199.8 586.2 205.6 587.7 C211.4 589.1 208.5 588.5 214.3 589.4 C220.1 590.3 219.7 588.5 223.0 590.3 C226.3 592.0 224.7 590.0 224.2 594.6 C223.7 599.2 222.6 598.7 221.6 604.2 C220.6 609.7 221.0 606.9 221.2 611.1 C221.5 615.3 224.2 613.2 222.5 616.7 C220.7 620.1 220.5 619.2 216.0 621.5 C211.6 623.8 214.3 623.3 209.1 623.6 C203.9 623.9 206.8 623.7 200.4 622.4 C194.1 621.1 195.8 621.8 190.0 619.8 C184.2 617.8 185.9 621.5 183.1 616.3 C180.2 611.1 181.9 612.8 181.3 604.2 C180.7 595.5 180.2 596.6 181.3 590.3Z" fill="url(#fg)" stroke="#35352f" stroke-width="1.45" stroke-linejoin="round"/>
<ellipse cx="216.2" cy="620.1" rx="5.3" ry="1.9" transform="rotate(-25 216.2 620.1)" fill="#7f90b6" stroke="#2b2e38" stroke-width="1.1"/>
<path d="M259.4 581.6 C259.2 575.2 260.3 579.0 262.9 574.7 C265.5 570.3 263.8 571.2 267.3 568.6 C270.7 566.0 267.8 567.7 273.3 566.8 C278.8 566.0 277.4 566.0 283.8 566.0 C290.1 566.0 288.1 565.1 292.4 566.8 C296.8 568.6 294.6 566.8 296.8 571.2 C299.0 575.5 298.2 574.1 299.0 579.9 C299.9 585.6 300.1 582.8 299.4 588.5 C298.6 594.3 299.7 592.3 296.8 597.2 C293.9 602.1 295.0 600.7 290.7 603.3 C286.4 605.9 289.0 605.0 283.8 605.0 C278.5 605.0 280.9 605.0 275.1 603.3 C269.3 601.6 270.2 603.0 266.4 599.8 C262.6 596.6 266.1 599.8 263.8 593.8 C261.5 587.7 259.7 588.0 259.4 581.6Z" fill="url(#fg)" stroke="#35352f" stroke-width="1.45" stroke-linejoin="round"/>
<ellipse cx="289.3" cy="598.4" rx="5.3" ry="1.9" transform="rotate(-25 289.3 598.4)" fill="#7f90b6" stroke="#2b2e38" stroke-width="1.1"/>
<path d="M191.7 564.2 C192.0 558.4 191.4 561.3 194.3 557.3 C197.2 553.2 195.5 554.5 200.4 552.1 C205.3 549.7 203.3 550.3 209.1 550.0 C214.9 549.7 212.0 550.5 217.8 551.2 C223.6 551.9 221.8 550.6 226.5 552.1 C231.1 553.5 229.2 552.1 231.7 555.6 C234.1 559.0 232.7 557.3 233.8 562.5 C234.8 567.7 234.9 566.0 234.8 571.2 C234.7 576.4 235.3 573.8 233.4 578.1 C231.5 582.5 232.5 581.0 229.1 584.2 C225.6 587.4 227.9 585.9 223.0 587.7 C218.1 589.4 220.1 590.0 214.3 589.4 C208.5 588.8 211.1 588.5 205.6 585.9 C200.1 583.3 201.9 585.4 197.8 581.6 C193.8 577.8 195.5 580.4 193.5 574.7 C191.4 568.9 191.4 570.0 191.7 564.2Z" fill="url(#fg)" stroke="#35352f" stroke-width="1.45" stroke-linejoin="round"/>
<ellipse cx="225.8" cy="586.3" rx="5.3" ry="1.9" transform="rotate(-22 225.8 586.3)" fill="#7f90b6" stroke="#2b2e38" stroke-width="1.1"/>
<path d="M149.4 566.0 C150.0 561.1 148.9 563.7 151.2 559.9 C153.5 556.1 153.2 557.3 156.4 554.7 C159.6 552.1 156.1 553.0 160.7 552.1 C165.4 551.2 163.6 551.8 170.3 552.1 C176.9 552.4 174.9 551.8 180.7 553.0 C186.5 554.1 183.9 553.0 187.6 555.6 C191.4 558.2 190.2 556.1 192.0 560.8 C193.7 565.4 192.0 563.7 192.8 569.4 C193.7 575.2 195.2 573.5 194.6 578.1 C194.0 582.8 195.2 579.3 191.1 583.3 C187.1 587.4 189.4 587.4 182.4 590.3 C175.5 593.2 178.4 593.2 170.3 592.0 C162.2 590.9 164.2 590.3 158.1 586.8 C152.0 583.3 154.9 585.6 152.0 581.6 C149.2 577.5 150.3 579.9 149.4 574.7 C148.6 569.4 148.9 570.9 149.4 566.0Z" fill="url(#fg)" stroke="#35352f" stroke-width="1.45" stroke-linejoin="round"/>
<ellipse cx="155.5" cy="556.9" rx="5.3" ry="1.9" transform="rotate(-36 155.5 556.9)" fill="#7f90b6" stroke="#2b2e38" stroke-width="1.1"/>
<path d="M252.5 534.7 C253.1 530.4 251.9 532.1 253.4 528.6 C254.8 525.2 253.1 526.6 256.8 524.3 C260.6 522.0 258.6 522.6 264.7 521.7 C270.7 520.8 268.7 521.1 275.1 521.7 C281.4 522.3 278.8 521.1 283.8 523.4 C288.7 525.8 286.9 524.3 289.8 528.6 C292.7 533.0 291.9 531.0 292.4 536.5 C293.0 542.0 292.7 539.4 291.6 545.1 C290.4 550.9 291.3 548.6 289.0 553.8 C286.6 559.0 288.1 557.0 284.6 560.8 C281.1 564.5 283.5 563.4 278.5 565.1 C273.6 566.8 275.6 566.3 269.9 566.0 C264.1 565.7 266.1 566.6 261.2 564.2 C256.3 561.9 258.1 563.7 255.1 559.0 C252.1 554.4 253.3 556.1 252.2 550.3 C251.0 544.6 251.5 546.9 251.6 541.7 C251.7 536.5 251.9 539.1 252.5 534.7Z" fill="url(#fg)" stroke="#35352f" stroke-width="1.45" stroke-linejoin="round"/>
<ellipse cx="289.3" cy="531.6" rx="5.3" ry="1.9" transform="rotate(76 289.3 531.6)" fill="#7f90b6" stroke="#2b2e38" stroke-width="1.1"/>
<path d="M145.1 594.6 C146.3 589.1 144.8 592.0 148.6 587.7 C152.3 583.3 151.5 584.5 156.4 581.6 C161.3 578.7 158.1 579.5 163.3 579.0 C168.5 578.5 166.8 578.2 172.0 580.2 C177.2 582.2 175.8 581.4 179.0 585.1 C182.1 588.7 180.4 586.5 181.6 591.1 C182.7 595.8 181.0 594.0 182.4 599.0 C183.9 603.9 184.5 601.9 185.9 605.9 C187.3 610.0 187.9 607.1 186.8 611.1 C185.6 615.2 186.8 614.0 182.4 618.1 C178.1 622.1 180.1 620.7 173.8 623.3 C167.4 625.9 169.1 625.3 163.3 625.9 C157.5 626.4 161.0 627.0 156.4 625.0 C151.8 623.0 152.6 623.8 149.4 619.8 C146.3 615.7 148.3 618.1 146.8 612.8 C145.4 607.6 145.7 610.2 145.1 604.2 C144.5 598.1 143.9 600.1 145.1 594.6Z" fill="url(#fg)" stroke="#35352f" stroke-width="1.45" stroke-linejoin="round"/>
<ellipse cx="153.3" cy="621.0" rx="5.3" ry="1.9" transform="rotate(38 153.3 621.0)" fill="#7f90b6" stroke="#2b2e38" stroke-width="1.1"/>
<path d="M222.1 602.4 C223.0 597.5 222.1 599.0 223.9 593.8 C225.6 588.5 224.4 590.9 227.3 586.8 C230.2 582.8 228.2 584.2 232.5 581.6 C236.9 579.0 234.8 579.3 240.3 579.0 C245.8 578.7 243.5 579.0 249.0 580.7 C254.5 582.5 252.2 581.3 256.8 584.2 C261.5 587.1 260.2 585.4 262.9 589.4 C265.6 593.5 264.7 591.4 265.0 596.4 C265.3 601.3 265.6 598.7 263.8 604.2 C261.9 609.7 262.6 607.6 259.4 612.8 C256.3 618.1 258.3 616.2 254.2 619.8 C250.2 623.4 252.5 622.3 247.3 623.6 C242.1 624.9 244.4 624.6 238.6 623.6 C232.8 622.6 234.8 623.7 229.9 620.7 C225.0 617.7 226.7 618.6 223.9 614.6 C221.0 610.5 221.8 612.6 221.2 608.5 C220.7 604.5 221.2 607.3 222.1 602.4Z" fill="url(#fg)" stroke="#35352f" stroke-width="1.45" stroke-linejoin="round"/>
<ellipse cx="263.3" cy="595.8" rx="5.3" ry="1.9" transform="rotate(82 263.3 595.8)" fill="#7f90b6" stroke="#2b2e38" stroke-width="1.1"/></g>
</svg>
</body></html>
